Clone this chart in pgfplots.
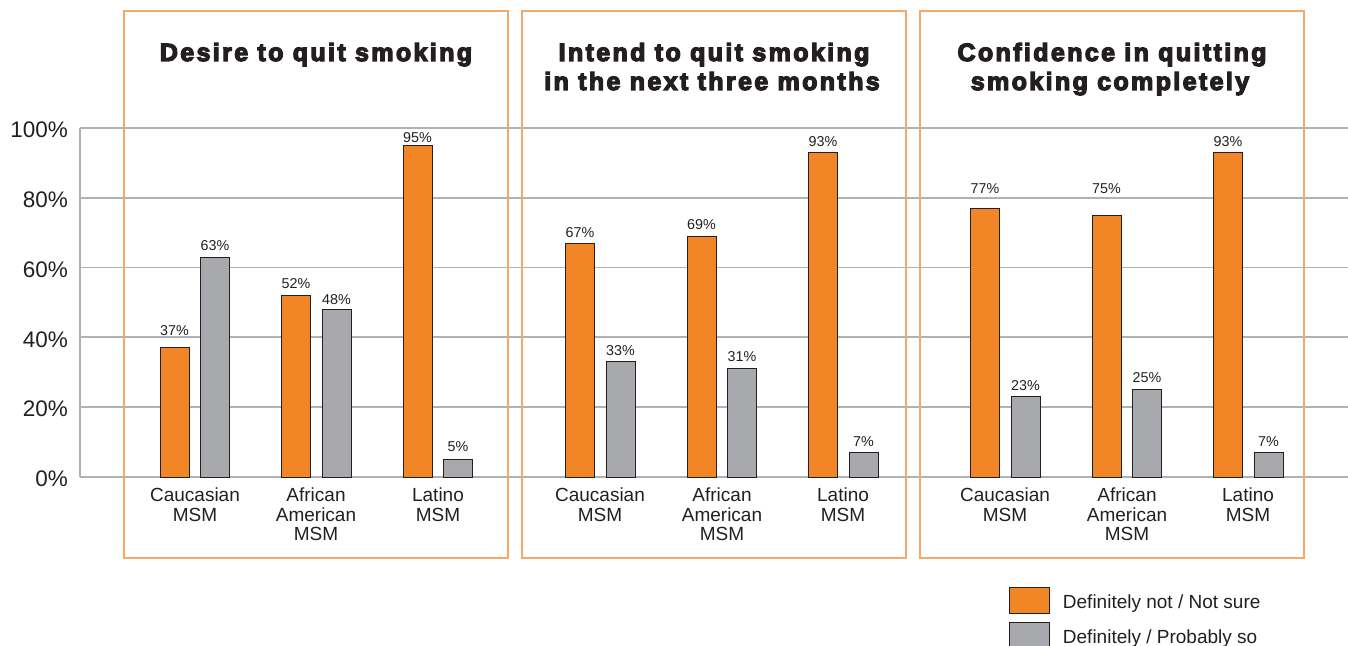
\documentclass[border=0pt]{standalone}
\usepackage{pgfplots}
\usepackage{pgfplotstable}
\pgfplotsset{compat=1.18}
\usepackage{fontspec}
\setmainfont{Liberation Sans}
\newfontfamily\titlefont[FakeBold=5,LetterSpace=9.5]{Liberation Sans Bold}

\definecolor{barorange}{RGB}{242,134,39}
\definecolor{bargray}{RGB}{167,169,172}
\definecolor{boxorange}{RGB}{246,168,104}
\definecolor{gridgray}{RGB}{176,177,179}
\definecolor{txt}{RGB}{35,31,32}

\pgfplotstableread{
x y off
174.5 37 12.7
296 52 7
417.5 95 3.3
580 67 6
701.5 69 7
823 93 6.3
985 77 14.4
1106.5 75 21.7
1228 93 6.3
}\orangedata

\pgfplotstableread{
x y off
215 63 6.3
336.5 48 5
458 5 8
620.5 33 6.7
742 31 7
863.5 7 6
1025.5 23 6
1147 25 7
1268.5 7 6
}\graydata

\pgfplotsset{
  mybar/.style={ybar, bar width=29, bar shift=0pt, draw=txt, line width=1pt,
    legend image code/.code={\draw[##1, line width=1pt] (0pt,-11.3pt) rectangle (40pt,14.7pt);},
    visualization depends on={\thisrow{off} \as \off},
    nodes near coords={\pgfmathprintnumber{\pgfplotspointmeta}\%},
    every node near coord/.append style={anchor=base, inner sep=0pt, yshift=\off pt,
      font=\fontsize{14.3}{14.3}\selectfont, text=txt},
  },
}

\begin{document}
\begin{tikzpicture}[x=1pt,y=1pt]
\useasboundingbox (0,0) rectangle (1348,645);
\begin{axis}[
  at={(80pt,168pt)}, anchor=south west, scale only axis,
  width=1268pt, height=349pt,
  xmin=80, xmax=1348, ymin=0, ymax=100,
  axis y line*=left, axis x line*=bottom,
  axis line style={gridgray, line width=1.8pt},
  ymajorgrids, grid style={gridgray, line width=1.8pt},
  ytick={0,20,40,60,80,100},
  yticklabel={\pgfmathprintnumber{\tick}\%},
  xtick={195,316,438,600,722,843,1005,1127,1248},
  xticklabels={{Caucasian\\MSM},{African\\American\\MSM},{Latino\\MSM},
               {Caucasian\\MSM},{African\\American\\MSM},{Latino\\MSM},
               {Caucasian\\MSM},{African\\American\\MSM},{Latino\\MSM}},
  major tick length=0pt,
  /pgf/number format/assume math mode=true,
  yticklabel style={font=\fontsize{22.5}{22.5}\selectfont, text=txt, anchor=east, inner sep=0pt, xshift=-12pt, yshift=-2pt},
  xticklabel style={font=\fontsize{19}{19.3}\selectfont, text=txt, align=center, anchor=north, inner sep=0pt, yshift=-11pt},
  clip=false,
  legend style={at={(0.7326,-0.3152)}, anchor=north west, draw=none, fill=none,
    inner sep=0pt, outer sep=0pt, row sep=8pt, column sep=13pt,
    font=\fontsize{19}{19}\selectfont, text=txt, nodes={inner sep=0pt}},
  legend cell align=left,
]
\addplot[mybar, fill=barorange] table[x=x, y=y] {\orangedata};
\addlegendentry{Definitely not / Not sure}
\addplot[mybar, fill=bargray] table[x=x, y=y] {\graydata};
\addlegendentry{Definitely / Probably so}
\end{axis}

\draw[boxorange, line width=1.3pt] (124,87) rectangle (508,634);
\draw[boxorange, line width=1.3pt] (522,87) rectangle (906,634);
\draw[boxorange, line width=1.3pt] (920,87) rectangle (1304,634);

\tikzset{ttl/.style={anchor=base, inner sep=0pt, text=txt, font=\titlefont\fontsize{25}{25}\selectfont}}
\node[ttl] at (316,584) {Desire to quit smoking};
\node[ttl] at (714,584) {Intend to quit smoking};
\node[ttl] at (712,555) {in the next three months};
\node[ttl] at (1112,584) {Confidence in quitting};
\node[ttl] at (1110,555) {smoking completely};
\end{tikzpicture}
\end{document}
